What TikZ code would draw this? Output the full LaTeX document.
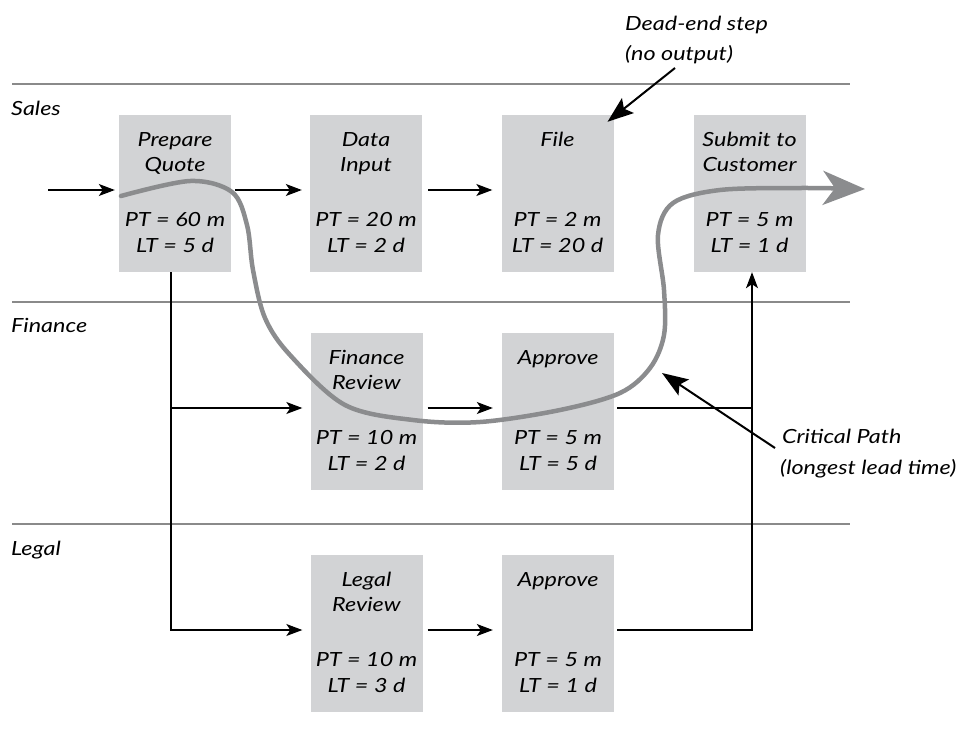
\documentclass[tikz,border=0pt]{standalone}
\usepackage{fontspec}
\setmainfont{Lato}[FakeStretch=1.2]
\usetikzlibrary{arrows.meta}
\definecolor{boxgray}{HTML}{D2D3D5}
\definecolor{lanegray}{HTML}{8A8A8A}
\definecolor{pathgray}{HTML}{8B8C8E}
\tikzset{
  procbox/.style={rectangle, fill=boxgray, draw=none, minimum width=112pt, minimum height=157pt, inner sep=0pt},
  lbl/.style={inner sep=0pt, font=\fontsize{19.5}{23}\selectfont\itshape},
  lane/.style={draw=lanegray, line width=1.4pt},
  conn/.style={draw=black, line width=1.1pt},
  arr/.style={conn, -{Stealth[length=16pt,width=12pt,inset=4pt]}},
  noteArr/.style={draw=black, line width=2pt, -{Stealth[length=26pt,width=19pt,inset=5pt]}},
  critpath/.style={draw=pathgray, line width=4.5pt, line cap=round, -{Stealth[length=42pt,width=34pt,inset=12pt]}}
}
\newcommand{\procbox}[7]{%
  \node[procbox] (#1) at (#2,#3) {};
  \node[lbl,anchor=base] (#1-a) at ([yshift=-32pt]#1.north) {#4};
  \node[lbl,anchor=base] (#1-b) at ([yshift=-57pt]#1.north) {#5};
  \node[lbl,anchor=base] (#1-c) at ([yshift=-112pt]#1.north) {#6};
  \node[lbl,anchor=base] (#1-d) at ([yshift=-138pt]#1.north) {#7};
}
\begin{document}
\begin{tikzpicture}[x=1pt,y=-1pt]
\useasboundingbox (0,0) rectangle (976,734);
\fill[white] (0,0) rectangle (976,734);

% lanes
\draw[lane] (12,84) -- (850,84);
\draw[lane] (12,302) -- (850,302);
\draw[lane] (12,524) -- (850,524);
\node[lbl,anchor=base west] (lsales) at (11,115) {Sales};
\node[lbl,anchor=base west] (lfin) at (11,332) {Finance};
\node[lbl,anchor=base west] (llegal) at (11,555) {Legal};

% boxes
\procbox{pq}{175}{193.5}{Prepare}{Quote}{PT = 60 m}{LT = 5 d}
\procbox{di}{366}{193.5}{Data}{Input}{PT = 20 m}{LT = 2 d}
\procbox{fi}{557.5}{193.5}{File}{}{PT = 2 m}{LT = 20 d}
\procbox{sc}{749.5}{193.5}{Submit to}{Customer}{PT = 5 m}{LT = 1 d}
\procbox{fr}{366.5}{411.5}{Finance}{Review}{PT = 10 m}{LT = 2 d}
\procbox{fa}{558}{411.5}{Approve}{}{PT = 5 m}{LT = 5 d}
\procbox{lr}{366.5}{633}{Legal}{Review}{PT = 10 m}{LT = 3 d}
\procbox{la}{558}{633}{Approve}{}{PT = 5 m}{LT = 1 d}

% connectors
\coordinate (in) at (48,190);
\draw[arr, shorten >=4pt] (in) -- ([yshift=3.5pt]pq.west);
\draw[arr] ([yshift=3.5pt,xshift=4pt]pq.east) -- ([yshift=3.5pt,xshift=-8pt]di.west);
\draw[arr] ([yshift=3.5pt,xshift=6pt]di.east) -- ([yshift=3.5pt,xshift=-9pt]fi.west);
\draw[arr] ([xshift=-4pt]pq.south) |- ([yshift=3.5pt,xshift=-8pt]fr.west);
\draw[arr] ([xshift=-4pt]pq.south) |- ([yshift=3pt,xshift=-8pt]lr.west);
\draw[arr] ([yshift=3.5pt,xshift=5pt]fr.east) -- ([yshift=3.5pt,xshift=-9pt]fa.west);
\draw[arr] ([yshift=3pt,xshift=5pt]lr.east) -- ([yshift=3pt,xshift=-9pt]la.west);
\coordinate (scin) at ([xshift=2.5pt]sc.south);
\coordinate (faout) at ([xshift=3pt,yshift=3.5pt]fa.east);
\coordinate (laout) at ([xshift=3pt,yshift=3pt]la.east);
\draw[conn] (faout) -- (faout -| scin);
\draw[arr] (laout) -| (scin);

% critical path
\draw[critpath] plot[smooth, tension=0.55] coordinates {
  (121,196) (190,181) (232,192) (247,225) (253,270) (265,318) (290,355)
  (345,405) (413,420) (480,422) (560,410) (620,393) (650,368) (664,335)
  (664,290) (658,235) (673,203) (720,190) (800,188) (865,189)};

% annotations
\node[lbl,anchor=base west] (dead1) at (625,30) {Dead-end step};
\node[lbl,anchor=base west] (dead2) at (625,60) {(no output)};
\coordinate (deadtail) at (675,68);
\draw[noteArr] (deadtail) -- ([xshift=50pt,yshift=-7pt]fi.north);
\node[lbl,anchor=base west] (crit1) at (782,443) {Critical Path};
\node[lbl,anchor=base west] (crit2) at (780,474) {(longest lead time)};
\coordinate (crittail) at (775,448);
\coordinate (crittip) at (662,373);
\draw[noteArr] (crittail) -- (crittip);
\end{tikzpicture}
\end{document}
